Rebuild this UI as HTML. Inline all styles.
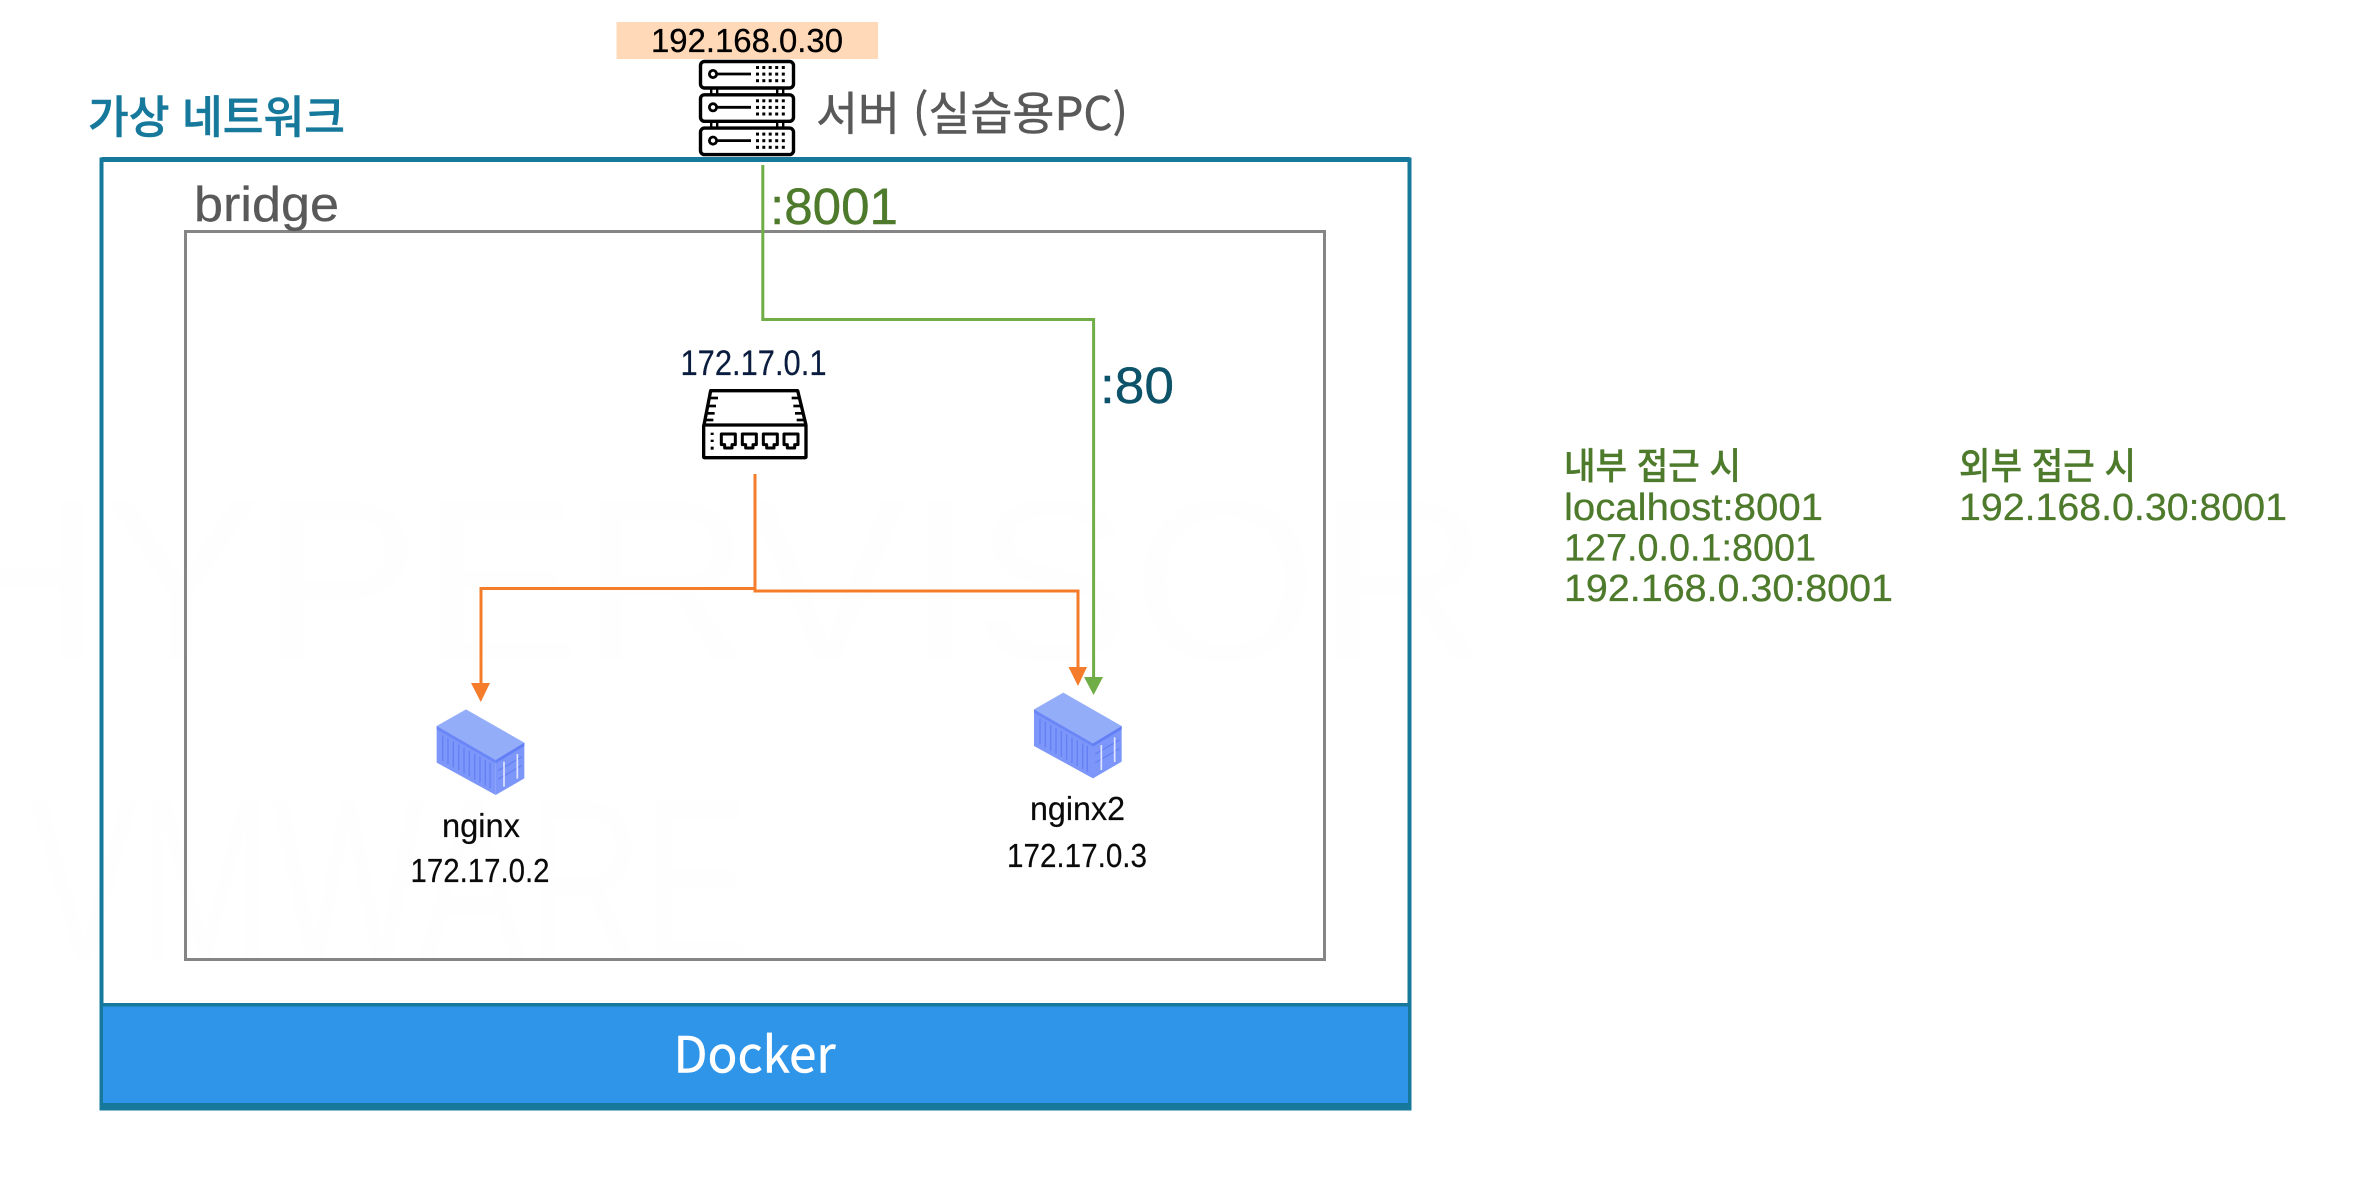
<!DOCTYPE html>
<html lang="ko">
<head>
<meta charset="utf-8">
<title>Docker bridge network</title>
<style>
html,body{margin:0;padding:0;background:#fff;width:2376px;height:1200px;overflow:hidden}
svg{display:block}
text{font-family:"Liberation Sans","Noto Sans CJK KR",sans-serif}
.ko{font-family:"Noto Sans CJK KR","Liberation Sans",sans-serif}
</style>
</head>
<body>
<svg xmlns="http://www.w3.org/2000/svg" width="2376" height="1200" viewBox="0 0 2376 1200">
<defs>
  <g id="unit">
    <rect x="700.5" y="61.5" width="93" height="26.5" rx="4" fill="#fff" stroke="#000" stroke-width="3.4"/>
    <circle cx="713" cy="74" r="3.6" fill="#fff" stroke="#000" stroke-width="2.8"/>
    <line x1="717" y1="74" x2="751" y2="74" stroke="#000" stroke-width="2.8"/>
    <g fill="#000">
      <rect x="756" y="66" width="3" height="3"/><rect x="762.3" y="66" width="3" height="3"/><rect x="768.7" y="66" width="3" height="3"/><rect x="775.2" y="66" width="3" height="3"/><rect x="781.8" y="66" width="3" height="3"/>
      <rect x="756" y="72.6" width="3" height="3"/><rect x="762.3" y="72.6" width="3" height="3"/><rect x="768.7" y="72.6" width="3" height="3"/><rect x="775.2" y="72.6" width="3" height="3"/><rect x="781.8" y="72.6" width="3" height="3"/>
      <rect x="756" y="79.2" width="3" height="3"/><rect x="762.3" y="79.2" width="3" height="3"/><rect x="768.7" y="79.2" width="3" height="3"/><rect x="775.2" y="79.2" width="3" height="3"/><rect x="781.8" y="79.2" width="3" height="3"/>
    </g>
  </g>
  <g id="link" fill="#000">
    <rect x="710" y="88" width="2.4" height="7"/><rect x="716" y="88" width="2.4" height="7"/>
    <rect x="776" y="88" width="2.4" height="7"/><rect x="782" y="88" width="2.4" height="7"/>
  </g>
  <g id="port" fill="none" stroke="#000" stroke-width="9" stroke-linejoin="round">
    <path d="M0,0 H42 V32 H32 V42 H10 V32 H0 Z"/>
  </g>
  <g id="box">
    <polygon points="198,88 373,188 287,240 110,138" fill="#94adf8"/>
    <polygon points="110,138 287,240 287,345 110,248" fill="#7c96f9"/>
    <polygon points="110,138 287,240 287,250 110,148" fill="#6b87f7"/>
    <polygon points="287,240 373,188 373,295 287,345" fill="#7d96f9"/>
    <polygon points="287,240 373,188 373,198 287,250" fill="#627ff5"/>
    <g stroke="#6480f4" stroke-width="4">
      <line x1="128" y1="166" x2="128" y2="243"/>
      <line x1="144" y1="175" x2="144" y2="252"/>
      <line x1="160" y1="185" x2="160" y2="262"/>
      <line x1="176" y1="194" x2="176" y2="271"/>
      <line x1="192" y1="203" x2="192" y2="280"/>
      <line x1="208" y1="212" x2="208" y2="289"/>
      <line x1="224" y1="222" x2="224" y2="299"/>
      <line x1="240" y1="231" x2="240" y2="308"/>
      <line x1="256" y1="240" x2="256" y2="317"/>
      <line x1="270" y1="248" x2="270" y2="325"/>
    </g>
    <g stroke="#6682f4" stroke-width="4">
      <line x1="294" y1="272" x2="366" y2="230"/>
      <line x1="294" y1="298" x2="366" y2="256"/>
    </g>
    <g stroke="#dfe5fd" stroke-width="5">
      <line x1="312" y1="245" x2="312" y2="320"/>
      <line x1="352" y1="222" x2="352" y2="296"/>
    </g>
  </g>
</defs>

<rect width="2376" height="1200" fill="#fff"/>

<!-- faint watermark -->
<g fill="#fefefe" font-size="230">
  <text x="-70" y="660" textLength="1560" lengthAdjust="spacingAndGlyphs">HYPERVISOR</text>
  <text x="30" y="960" textLength="720" lengthAdjust="spacingAndGlyphs">VMWARE</text>
</g>

<!-- outer box -->
<rect x="101.5" y="159.5" width="1308" height="949" fill="none" stroke="#16799c" stroke-width="4"/>
<rect x="101.5" y="157" width="1308" height="5" fill="#16799c"/>
<rect x="103" y="1006" width="1305" height="97" fill="#2f95e9"/>
<rect x="100" y="1003" width="1311" height="3.5" fill="#16799c"/>
<rect x="100" y="1103" width="1311" height="7.5" fill="#16799c"/>

<!-- bridge box -->
<rect x="185.5" y="231.5" width="1139" height="728" fill="none" stroke="#858585" stroke-width="3"/>

<!-- connectors -->
<path d="M762.8,165 V319.5 H1093.6 V680" fill="none" stroke="#70ad47" stroke-width="3"/>
<polygon points="1084,677 1103,677 1093.6,695" fill="#70ad47"/>
<path d="M755,474 V588.5 H481 V685" fill="none" stroke="#f57c2a" stroke-width="3"/>
<path d="M755,474 V591 H1078 V670" fill="none" stroke="#f57c2a" stroke-width="3"/>
<polygon points="471,683 490,683 480.8,702" fill="#f57c2a"/>
<polygon points="1068.5,667 1087,667 1078,686" fill="#f57c2a"/>

<!-- address tag -->
<rect x="616.5" y="22" width="261.5" height="37" fill="#ffd9b8"/>
<text x="651" y="52" font-size="33" fill="#000" stroke="#000" stroke-width=".3" textLength="192" lengthAdjust="spacingAndGlyphs">192.168.0.30</text>

<!-- server icon -->
<use href="#unit"/>
<use href="#link"/>
<use href="#unit" y="33.3"/>
<use href="#link" y="33.3"/>
<use href="#unit" y="66.6"/>

<text class="ko" x="816" y="130" font-size="46" fill="#595959" stroke="#595959" stroke-width=".5" textLength="312" lengthAdjust="spacingAndGlyphs">서버 (실습용PC)</text>
<text class="ko" x="88" y="133" font-size="45" font-weight="500" fill="#16799c" stroke="#16799c" stroke-width=".5" textLength="257" lengthAdjust="spacingAndGlyphs">가상 네트워크</text>

<text x="194" y="221" font-size="49" fill="#595959" stroke="#595959" stroke-width=".3" textLength="145" lengthAdjust="spacingAndGlyphs">bridge</text>
<text x="770" y="224" font-size="51" fill="#4e7a2c" stroke="#4e7a2c" stroke-width=".4" textLength="128" lengthAdjust="spacingAndGlyphs">:8001</text>
<text x="1100" y="403" font-size="51" fill="#0c5269" stroke="#0c5269" stroke-width=".4" textLength="74" lengthAdjust="spacingAndGlyphs">:80</text>

<!-- switch -->
<text x="680.5" y="375" font-size="35" fill="#0b1d3f" stroke="#0b1d3f" stroke-width=".2" textLength="146" lengthAdjust="spacingAndGlyphs">172.17.0.1</text>
<g transform="translate(660,330) scale(.33333)">
  <path d="M132,285 L152,182 H413 L438,285" fill="#fff" stroke="#000" stroke-width="10" stroke-linejoin="round"/>
  <rect x="131" y="285" width="307" height="98" rx="2" fill="#fff" stroke="#000" stroke-width="10"/>
  <g stroke="#000" stroke-width="8">
    <line x1="148" y1="204" x2="174" y2="204"/><line x1="144" y1="228" x2="168" y2="228"/><line x1="140" y1="250" x2="164" y2="250"/><line x1="136" y1="270" x2="160" y2="270"/>
    <line x1="395" y1="204" x2="420" y2="204"/><line x1="400" y1="228" x2="425" y2="228"/><line x1="405" y1="250" x2="430" y2="250"/><line x1="410" y1="270" x2="435" y2="270"/>
  </g>
  <g fill="#000"><rect x="152" y="308" width="9" height="7"/><rect x="152" y="329" width="9" height="7"/><rect x="152" y="350" width="9" height="9"/></g>
  <use href="#port" x="184" y="312"/>
  <use href="#port" x="247" y="312"/>
  <use href="#port" x="310" y="312"/>
  <use href="#port" x="372" y="312"/>
</g>

<!-- containers -->
<use href="#box" transform="translate(400,680) scale(.33333)"/>
<text x="442" y="837" font-size="33" fill="#0a0a0a" stroke="#0a0a0a" stroke-width=".2" textLength="78" lengthAdjust="spacingAndGlyphs">nginx</text>
<text x="410.5" y="882" font-size="33" fill="#0a0a0a" stroke="#0a0a0a" stroke-width=".2" textLength="139" lengthAdjust="spacingAndGlyphs">172.17.0.2</text>

<use href="#box" transform="translate(997.33,663.33) scale(.33333)"/>
<text x="1030" y="820" font-size="33" fill="#0a0a0a" stroke="#0a0a0a" stroke-width=".2" textLength="95" lengthAdjust="spacingAndGlyphs">nginx2</text>
<text x="1007" y="867" font-size="33" fill="#0a0a0a" stroke="#0a0a0a" stroke-width=".2" textLength="140" lengthAdjust="spacingAndGlyphs">172.17.0.3</text>

<!-- docker label -->
<text class="ko" x="673.5" y="1072.5" font-size="50" fill="#fff" stroke="#fff" stroke-width=".5" textLength="162" lengthAdjust="spacingAndGlyphs">Docker</text>

<!-- access notes -->
<g fill="#4e7a2c" stroke="#4e7a2c" stroke-width=".3" font-size="38">
  <text class="ko" x="1564" y="479" font-size="37" font-weight="500" textLength="177" lengthAdjust="spacingAndGlyphs">내부 접근 시</text>
  <text x="1564" y="520" textLength="259" lengthAdjust="spacingAndGlyphs">localhost:8001</text>
  <text x="1564" y="560.5" textLength="252" lengthAdjust="spacingAndGlyphs">127.0.0.1:8001</text>
  <text x="1564" y="601" textLength="329" lengthAdjust="spacingAndGlyphs">192.168.0.30:8001</text>
  <text class="ko" x="1959" y="479" font-size="37" font-weight="500" textLength="177" lengthAdjust="spacingAndGlyphs">외부 접근 시</text>
  <text x="1959" y="520" textLength="328" lengthAdjust="spacingAndGlyphs">192.168.0.30:8001</text>
</g>
</svg>
</body>
</html>
